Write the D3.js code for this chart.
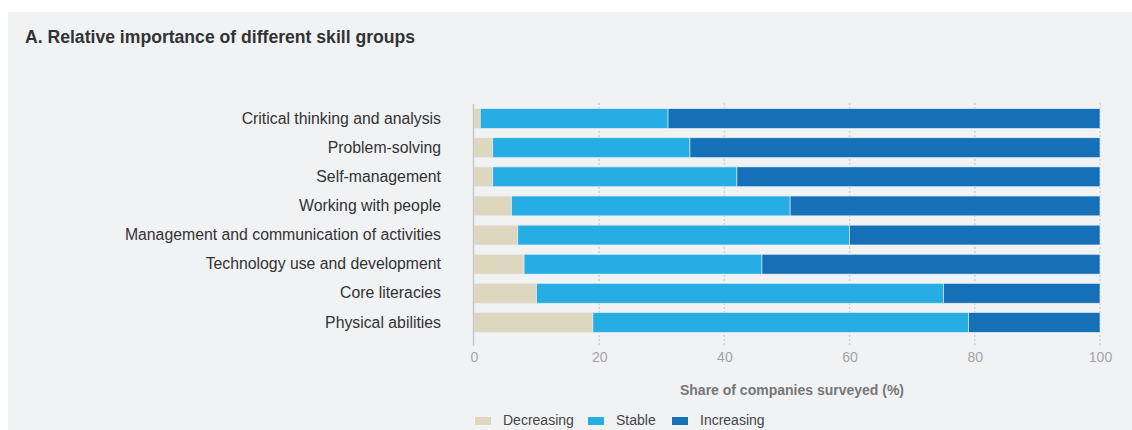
<!DOCTYPE html>
<html>
<head>
<meta charset="utf-8">
<script src="https://cdn.jsdelivr.net/npm/d3@7"></script>
<style>
  body { margin: 0; background: #fff; }
  svg { display: block; font-family: "Liberation Sans", Arial, sans-serif; }
</style>
</head>
<body>
<svg id="chart"></svg>
<script>
const categories = [
  "Critical thinking and analysis",
  "Problem-solving",
  "Self-management",
  "Working with people",
  "Management and communication of activities",
  "Technology use and development",
  "Core literacies",
  "Physical abilities"
];
const decreasing = [1, 3, 3, 6, 7, 8, 10, 19];
const stable = [30, 31.5, 39, 44.5, 53, 38, 65, 60];
const increasing = [69, 65.5, 58, 49.5, 40, 54, 25, 21];
const seriesNames = ["Decreasing", "Stable", "Increasing"];
const xTicks = [0, 20, 40, 60, 80, 100];

const W = 1132, H = 430;
const svg = d3.select("#chart").attr("width", W).attr("height", H);

// panel background
svg.append("rect")
  .attr("x", 8).attr("y", 12)
  .attr("width", W - 8).attr("height", H - 12)
  .attr("fill", "#f1f2f4");

svg.append("text")
  .attr("x", 25).attr("y", 43)
  .attr("font-size", 17.6).attr("font-weight", "bold")
  .attr("fill", "#333")
  .text("A. Relative importance of different skill groups");

const x = d3.scaleLinear().domain([0, 100]).range([474, 1100]);
const y = d3.scaleBand().domain(categories).range([104, 337]).paddingInner(0.32).paddingOuter(0.16);

const color = d3.scaleOrdinal()
  .domain(seriesNames)
  .range(["#ddd7c0", "#26ade4", "#1570b8"]);

// dotted gridlines
svg.append("g")
  .selectAll("line")
  .data(xTicks.slice(1))
  .join("line")
  .attr("x1", d => x(d)).attr("x2", d => x(d))
  .attr("y1", 103).attr("y2", 346)
  .attr("stroke", "#cfd1d4")
  .attr("stroke-width", 1.5)
  .attr("stroke-dasharray", "2,2");

const rows = categories.map((c, i) => ({
  key: c, Decreasing: decreasing[i], Stable: stable[i], Increasing: increasing[i]
}));
const stacked = d3.stack().keys(seriesNames)(rows);

svg.append("g")
  .selectAll("g")
  .data(stacked)
  .join("g")
  .attr("fill", d => color(d.key))
  .selectAll("rect")
  .data(d => d)
  .join("rect")
  .attr("x", d => x(d[0]))
  .attr("y", d => y(d.data.key))
  .attr("width", d => x(d[1]) - x(d[0]))
  .attr("height", y.bandwidth())
  .attr("stroke", "#e9eef3")
  .attr("stroke-width", 0.6);

// y axis line
svg.append("line")
  .attr("x1", x(0) - 0.5).attr("x2", x(0) - 0.5)
  .attr("y1", 104).attr("y2", 346)
  .attr("stroke", "#c8c8c8").attr("stroke-width", 1.5);

// category labels
const yAxis = svg.append("g")
  .attr("transform", `translate(${x(0) - 33},0)`)
  .call(d3.axisLeft(y).tickSize(0).tickPadding(0));
yAxis.select(".domain").remove();
yAxis.selectAll("text")
  .attr("font-size", 15.8)
  .attr("font-family", "Liberation Sans, Arial, sans-serif")
  .attr("fill", "#333");

// x tick labels
const xAxis = svg.append("g")
  .attr("transform", "translate(0,346)")
  .call(d3.axisBottom(x).tickValues(xTicks).tickSize(0).tickPadding(6));
xAxis.select(".domain").remove();
xAxis.selectAll("text")
  .attr("font-size", 14)
  .attr("font-family", "Liberation Sans, Arial, sans-serif")
  .attr("fill", "#a4a4a4");

svg.append("text")
  .attr("x", 792).attr("y", 395)
  .attr("text-anchor", "middle")
  .attr("font-size", 14).attr("font-weight", "bold")
  .attr("fill", "#777")
  .text("Share of companies surveyed (%)");

// legend
const legendX = [475, 588, 672];
const legend = svg.append("g")
  .selectAll("g")
  .data(seriesNames)
  .join("g")
  .attr("transform", (d, i) => `translate(${legendX[i]},425)`);
legend.append("rect")
  .attr("x", 0).attr("y", -8)
  .attr("width", 16).attr("height", 8)
  .attr("fill", d => color(d));
legend.append("text")
  .attr("x", 28).attr("y", 0)
  .attr("font-size", 14)
  .attr("fill", "#444")
  .text(d => d);
</script>
</body>
</html>
